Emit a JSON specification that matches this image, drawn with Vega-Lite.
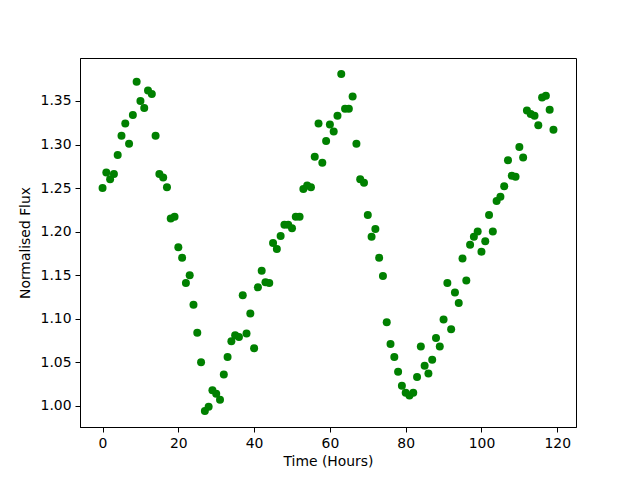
{
  "$schema": "https://vega.github.io/schema/vega-lite/v6.json",
  "width": 496,
  "height": 369,
  "autosize": {"type": "none"},
  "padding": {"left": 80, "top": 58, "right": 64, "bottom": 53},
  "background": "white",
  "config": {
    "view": {"stroke": "black", "strokeWidth": 1},
    "axis": {
      "grid": false,
      "domainColor": "black",
      "domainWidth": 1,
      "tickColor": "black",
      "tickWidth": 1,
      "tickSize": 5,
      "labelColor": "black",
      "labelFont": "DejaVu Sans",
      "labelFontSize": 13.9,
      "labelPadding": 4,
      "titleFont": "DejaVu Sans",
      "titleFontSize": 13.9,
      "titleFontWeight": "normal",
      "titleColor": "black"
    }
  },
  "data": {
    "values": [
      {"t":0,"flux":1.250},{"t":1,"flux":1.268},{"t":2,"flux":1.260},{"t":3,"flux":1.266},{"t":4,"flux":1.288},
      {"t":5,"flux":1.310},{"t":6,"flux":1.324},{"t":7,"flux":1.301},{"t":8,"flux":1.334},{"t":9,"flux":1.372},
      {"t":10,"flux":1.350},{"t":11,"flux":1.342},{"t":12,"flux":1.362},{"t":13,"flux":1.358},{"t":14,"flux":1.310},
      {"t":15,"flux":1.266},{"t":16,"flux":1.262},{"t":17,"flux":1.251},{"t":18,"flux":1.215},{"t":19,"flux":1.217},
      {"t":20,"flux":1.182},{"t":21,"flux":1.170},{"t":22,"flux":1.141},{"t":23,"flux":1.150},{"t":24,"flux":1.116},
      {"t":25,"flux":1.084},{"t":26,"flux":1.050},{"t":27,"flux":0.994},{"t":28,"flux":0.999},{"t":29,"flux":1.018},
      {"t":30,"flux":1.014},{"t":31,"flux":1.007},{"t":32,"flux":1.036},{"t":33,"flux":1.056},{"t":34,"flux":1.074},
      {"t":35,"flux":1.081},{"t":36,"flux":1.079},{"t":37,"flux":1.127},{"t":38,"flux":1.083},{"t":39,"flux":1.106},
      {"t":40,"flux":1.066},{"t":41,"flux":1.136},{"t":42,"flux":1.155},{"t":43,"flux":1.142},{"t":44,"flux":1.141},
      {"t":45,"flux":1.187},{"t":46,"flux":1.180},{"t":47,"flux":1.195},{"t":48,"flux":1.208},{"t":49,"flux":1.208},
      {"t":50,"flux":1.204},{"t":51,"flux":1.217},{"t":52,"flux":1.217},{"t":53,"flux":1.249},{"t":54,"flux":1.253},
      {"t":55,"flux":1.251},{"t":56,"flux":1.286},{"t":57,"flux":1.324},{"t":58,"flux":1.279},{"t":59,"flux":1.304},
      {"t":60,"flux":1.323},{"t":61,"flux":1.315},{"t":62,"flux":1.333},{"t":63,"flux":1.381},{"t":64,"flux":1.341},
      {"t":65,"flux":1.341},{"t":66,"flux":1.355},{"t":67,"flux":1.301},{"t":68,"flux":1.260},{"t":69,"flux":1.256},
      {"t":70,"flux":1.219},{"t":71,"flux":1.194},{"t":72,"flux":1.203},{"t":73,"flux":1.170},{"t":74,"flux":1.149},
      {"t":75,"flux":1.096},{"t":76,"flux":1.071},{"t":77,"flux":1.056},{"t":78,"flux":1.039},{"t":79,"flux":1.023},
      {"t":80,"flux":1.015},{"t":81,"flux":1.012},{"t":82,"flux":1.015},{"t":83,"flux":1.033},{"t":84,"flux":1.068},
      {"t":85,"flux":1.046},{"t":86,"flux":1.037},{"t":87,"flux":1.053},{"t":88,"flux":1.078},{"t":89,"flux":1.068},
      {"t":90,"flux":1.099},{"t":91,"flux":1.141},{"t":92,"flux":1.088},{"t":93,"flux":1.130},{"t":94,"flux":1.118},
      {"t":95,"flux":1.169},{"t":96,"flux":1.144},{"t":97,"flux":1.185},{"t":98,"flux":1.194},{"t":99,"flux":1.200},
      {"t":100,"flux":1.177},{"t":101,"flux":1.189},{"t":102,"flux":1.219},{"t":103,"flux":1.200},{"t":104,"flux":1.235},
      {"t":105,"flux":1.240},{"t":106,"flux":1.252},{"t":107,"flux":1.282},{"t":108,"flux":1.264},{"t":109,"flux":1.263},
      {"t":110,"flux":1.297},{"t":111,"flux":1.285},{"t":112,"flux":1.339},{"t":113,"flux":1.335},{"t":114,"flux":1.333},
      {"t":115,"flux":1.322},{"t":116,"flux":1.354},{"t":117,"flux":1.356},{"t":118,"flux":1.340},{"t":119,"flux":1.317}
    ]
  },
  "mark": {"type": "circle", "color": "#008000", "opacity": 1, "size": 64},
  "encoding": {
    "x": {
      "field": "t", "type": "quantitative",
      "scale": {"domain": [-5.95, 124.95], "nice": false, "zero": false},
      "axis": {"title": "Time (Hours)", "values": [0, 20, 40, 60, 80, 100, 120], "titlePadding": 5, "labelFlush": false}
    },
    "y": {
      "field": "flux", "type": "quantitative",
      "scale": {"domain": [0.9757, 1.3993], "nice": false, "zero": false},
      "axis": {"title": "Normalised Flux", "values": [1.0, 1.05, 1.1, 1.15, 1.2, 1.25, 1.3, 1.35], "format": ".2f", "titlePadding": 8, "labelFlush": false}
    }
  }
}
